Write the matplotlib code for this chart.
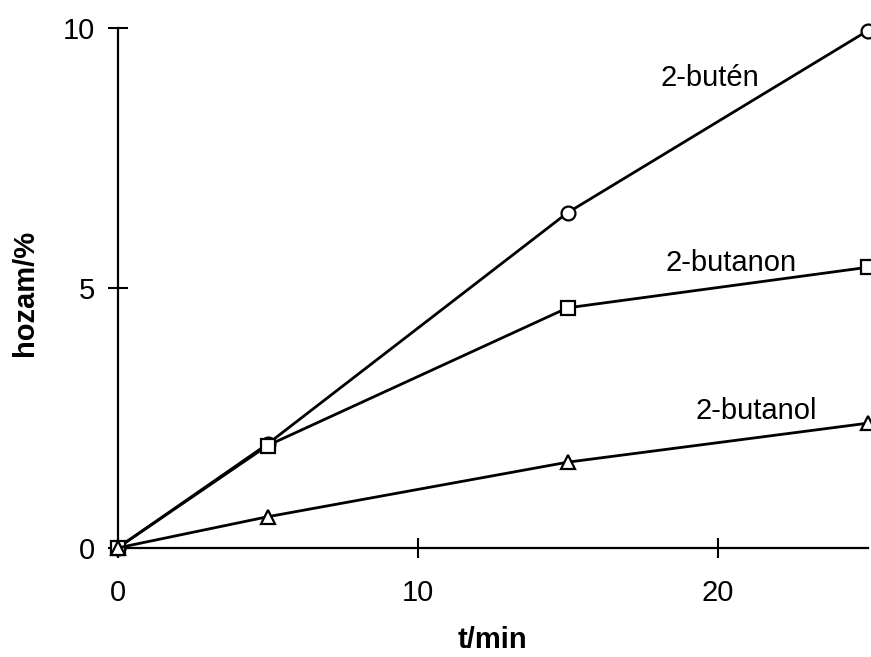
import matplotlib
matplotlib.use("Agg")
import matplotlib.pyplot as plt

t = [0, 5, 15, 25]
buten = [0, 2.0, 6.45, 9.95]
butanon = [0, 1.97, 4.62, 5.40]
butanol = [0, 0.60, 1.65, 2.40]
xticks = [0, 10, 20]
yticks = [0, 5, 10]

plt.rcParams['font.family'] = ['Liberation Sans', 'DejaVu Sans']
fig = plt.figure(figsize=(8.71, 6.57), dpi=100)
ax = fig.add_axes([0.135, 0.166, 0.861, 0.791])

style = dict(color='black', lw=2.0, mfc='white', mec='black', mew=1.6, ms=10, clip_on=False, zorder=3)
ax.plot(t, buten, marker='o', **style)
ax.plot(t, butanon, marker='s', **style)
ax.plot(t, butanol, marker='^', **style)

ax.text(18.1, 9.05, '2-butén', fontsize=21, ha='left', va='center')
ax.text(18.27, 5.48, '2-butanon', fontsize=21, ha='left', va='center')
ax.text(19.27, 2.63, '2-butanol', fontsize=21, ha='left', va='center')

ax.set_xlim(0, 25)
ax.set_ylim(0, 10)
ax.set_xticks(xticks)
ax.set_yticks(yticks)
ax.tick_params(direction='inout', length=15, width=1.5, labelsize=21)
ax.tick_params(axis='x', pad=15)
ax.tick_params(axis='y', pad=9)
for s in ['top', 'right']:
    ax.spines[s].set_visible(False)
for s in ['left', 'bottom']:
    ax.spines[s].set_linewidth(1.6)

ax.set_xlabel('t/min', fontsize=21, fontweight='bold')
ax.xaxis.set_label_coords(0.5, -0.177)
ax.xaxis.label.set_va('center')
ax.set_ylabel('hozam/%', fontsize=21, fontweight='bold')
ax.yaxis.set_label_coords(-0.124, 0.49)
ax.yaxis.label.set_va('center')

fig.savefig('out.png', dpi=100)
